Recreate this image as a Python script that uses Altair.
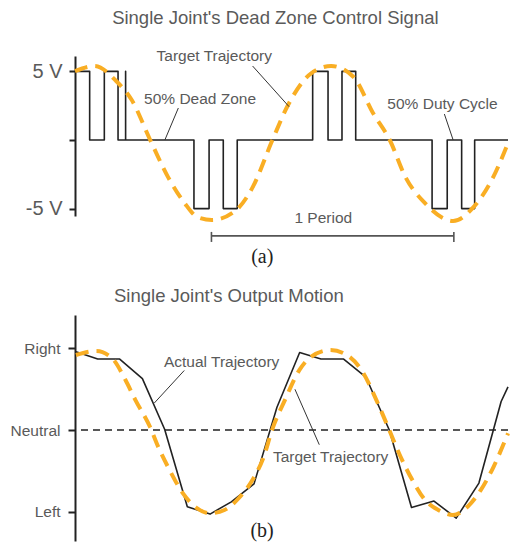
import altair as alt
import pandas as pd

# ---------------- Panel (a): dead-zone control signal ----------------
title_a = "Single Joint's Dead Zone Control Signal"
title_a_pos = (1.57, 8.92)

sq_t = [0, 0.62, 1.24, 1.82, 2.14, 2.14, 5.03, 5.67, 6.27, 6.86, 10.05, 10.70,
        11.29, 11.87, 15.10, 15.74, 16.35, 16.90, 18.31]
sq_v = [5, 0, 5, 0, 5, 0, -5, 0, -5, 0, 5, 0, 5, 0, -5, 0, -5, 0, 0]

tgt_a_t = [0, 0.83, 1.74, 2.40, 3.18, 3.93, 4.63, 5.17, 5.79, 6.82, 7.52, 8.35,
           9.01, 10.0, 10.83, 11.78, 12.60, 13.31, 13.97, 14.79, 15.99, 16.86,
           17.69, 18.31]
tgt_a_v = [5.02, 5.39, 4.30, 2.91, 0, -2.69, -4.59, -5.61, -5.83, -5.10, -3.42, 0,
           2.55, 4.88, 5.39, 4.59, 1.97, 0, -2.69, -4.59, -5.90, -4.88, -2.69, -0.22]

a_tick_values = [5, 0, -5]
a_tick_labels = ["5 V", "", "-5 V"]

ann_a_text = ["Target Trajectory", "50% Dead Zone", "50% Duty Cycle", "1 Period"]
ann_a_t = [5.89, 5.29, 15.54, 10.50]
ann_a_v = [6.12, 3.01, 2.64, -5.68]

lead_a_t1 = [7.51, 4.37, 15.62]
lead_a_v1 = [5.39, 2.33, 1.89]
lead_a_t2 = [9.05, 3.80, 15.99]
lead_a_v2 = [2.43, 0, 0]

period_t = [5.77, 16.02]
period_v = -6.99
period_tick_v = [-6.70, -7.43]

panel_a_label = "(a)"
panel_a_pos = (7.92, -8.56)

# ---------------- Panel (b): output motion ----------------
title_b = "Single Joint's Output Motion"
title_b_pos = (1.65, 1.64)

act_t = [0.04, 0.96, 1.89, 2.85, 3.79, 4.75, 5.71, 6.61, 7.57, 8.54, 9.50, 10.40,
         11.36, 12.30, 13.29, 14.23, 15.18, 16.12, 17.08, 18.02, 18.31]
act_v = [0.96, 0.87, 0.87, 0.63, 0.01, -0.94, -1.03, -0.88, -0.66, 0.28, 0.95, 0.87,
         0.87, 0.65, 0.0, -0.95, -0.87, -1.08, -0.65, 0.35, 0.53]

tgt_b_t = [0.04, 0.90, 1.57, 2.14, 2.55, 3.17, 3.51, 4.0, 4.55, 5.17, 5.71, 6.32,
           6.94, 7.51, 7.98, 8.33, 8.88, 9.50, 9.99, 10.81, 11.49, 12.19, 12.74,
           13.29, 13.71, 14.26, 14.81, 15.36, 15.98, 16.60, 17.15, 17.70, 18.31]
tgt_b_v = [0.92, 0.97, 0.88, 0.61, 0.37, 0.04, -0.2, -0.49, -0.77, -0.96, -1.02, -0.98,
           -0.83, -0.61, -0.33, 0, 0.37, 0.74, 0.9, 0.98, 0.92, 0.70, 0.37,
           0.0, -0.29, -0.61, -0.86, -0.98, -1.04, -0.94, -0.74, -0.45, -0.04]

b_tick_values = [1, 0, -1]
b_tick_labels = ["Right", "Neutral", "Left"]

ann_b_text = ["Actual Trajectory", "Target Trajectory"]
ann_b_t = [6.20, 10.81]
ann_b_v = [0.84, -0.33]

lead_b_t1 = [4.62, 10.33]
lead_b_v1 = [0.73, -0.18]
lead_b_t2 = [3.35, 9.30]
lead_b_v2 = [0.33, 0.50]

panel_b_label = "(b)"
panel_b_pos = (7.91, -1.24)

# ---------------- styling ----------------
SANS = "Liberation Sans"
SERIF = "Liberation Serif"
GRAY = "#5a5a5a"
INK = "#222222"
ORANGE = "#F9AE24"

W = 433
x_scale = alt.Scale(domain=[0, 18.31], nice=False, zero=False)


def label_expr(values, labels):
    parts = [f"datum.value == {v} ? '{l}'" for v, l in zip(values, labels)]
    return " : ".join(parts) + " : ''"


def panel(y_scale, y_axis, sig_df, sig_interp, tgt_df, ann_df, lead_df, extra,
          tag_df, title_df, height):
    X = alt.X("t:Q", scale=x_scale, axis=None)
    Y = alt.Y("v:Q", scale=y_scale, axis=y_axis)
    layers = []
    layers.extend(extra(X, Y))
    layers.append(
        alt.Chart(sig_df).mark_line(interpolate=sig_interp, color=INK, strokeWidth=1.6,
                                    strokeJoin="round")
        .encode(x=X, y=Y, order="i:Q")
    )
    layers.append(
        alt.Chart(tgt_df).mark_line(interpolate="monotone", color=ORANGE, strokeWidth=4,
                                    strokeDash=[13, 8], strokeJoin="round")
        .encode(x=X, y=Y, order="i:Q")
    )
    layers.append(
        alt.Chart(lead_df).mark_rule(color="#333333", strokeWidth=1)
        .encode(x=X, y=Y, x2="t2:Q", y2="v2:Q")
    )
    layers.append(
        alt.Chart(ann_df).mark_text(font=SANS, fontSize=15.5, color=GRAY, align="center",
                                    baseline="middle")
        .encode(x=X, y=Y, text="label:N")
    )
    layers.append(
        alt.Chart(tag_df).mark_text(font=SERIF, fontSize=20, color=INK, align="center",
                                    baseline="middle")
        .encode(x=X, y=Y, text="label:N")
    )
    layers.append(
        alt.Chart(title_df).mark_text(font=SANS, fontSize=18.5, color=GRAY, align="left",
                                      baseline="middle")
        .encode(x=X, y=Y, text="label:N")
    )
    return alt.layer(*layers).properties(width=W, height=height)


# ---- panel (a) ----
sq_df = pd.DataFrame({"t": sq_t, "v": sq_v, "i": range(len(sq_t))})
tgt_a_df = pd.DataFrame({"t": tgt_a_t, "v": tgt_a_v, "i": range(len(tgt_a_t))})
ann_a_df = pd.DataFrame({"t": ann_a_t, "v": ann_a_v, "label": ann_a_text})
lead_a_df = pd.DataFrame({"t": lead_a_t1, "v": lead_a_v1, "t2": lead_a_t2, "v2": lead_a_v2})
period_df = pd.DataFrame({
    "t": [period_t[0], period_t[0], period_t[1]],
    "v": [period_v, period_tick_v[0], period_tick_v[0]],
    "t2": [period_t[1], period_t[0], period_t[1]],
    "v2": [period_v, period_tick_v[1], period_tick_v[1]],
})
tag_a_df = pd.DataFrame({"t": [panel_a_pos[0]], "v": [panel_a_pos[1]], "label": [panel_a_label]})
title_a_df = pd.DataFrame({"t": [title_a_pos[0]], "v": [title_a_pos[1]], "label": [title_a]})

y_a_scale = alt.Scale(domain=[-5.54, 6.12], nice=False, zero=False)
y_a_axis = alt.Axis(values=a_tick_values, labelExpr=label_expr(a_tick_values, a_tick_labels),
                    title=None, grid=False, domainColor=INK, domainWidth=2, tickColor=INK,
                    tickWidth=2, tickSize=6, labelFont=SANS, labelFontSize=20,
                    labelColor=GRAY, labelPadding=7)


def extra_a(X, Y):
    return [alt.Chart(period_df).mark_rule(color="#555555", strokeWidth=1.6)
            .encode(x=X, y=Y, x2="t2:Q", y2="v2:Q")]


top = panel(y_a_scale, y_a_axis, sq_df, "step-after", tgt_a_df, ann_a_df, lead_a_df,
            extra_a, tag_a_df, title_a_df, 160)

# ---- panel (b) ----
act_df = pd.DataFrame({"t": act_t, "v": act_v, "i": range(len(act_t))})
tgt_b_df = pd.DataFrame({"t": tgt_b_t, "v": tgt_b_v, "i": range(len(tgt_b_t))})
ann_b_df = pd.DataFrame({"t": ann_b_t, "v": ann_b_v, "label": ann_b_text})
lead_b_df = pd.DataFrame({"t": lead_b_t1, "v": lead_b_v1, "t2": lead_b_t2, "v2": lead_b_v2})
tag_b_df = pd.DataFrame({"t": [panel_b_pos[0]], "v": [panel_b_pos[1]], "label": [panel_b_label]})
title_b_df = pd.DataFrame({"t": [title_b_pos[0]], "v": [title_b_pos[1]], "label": [title_b]})
neutral_df = pd.DataFrame({"v": [0]})

y_b_scale = alt.Scale(domain=[-1.36, 1.41], nice=False, zero=False)
y_b_axis = alt.Axis(values=b_tick_values, labelExpr=label_expr(b_tick_values, b_tick_labels),
                    title=None, grid=False, domainColor=INK, domainWidth=2, tickColor=INK,
                    tickWidth=2, tickSize=7, labelFont=SANS, labelFontSize=15.5,
                    labelColor=GRAY, labelPadding=8)


def extra_b(X, Y):
    return [alt.Chart(neutral_df).mark_rule(color=INK, strokeWidth=1.5, strokeDash=[7, 5])
            .encode(y=Y)]


bottom = panel(y_b_scale, y_b_axis, act_df, "linear", tgt_b_df, ann_b_df, lead_b_df,
               extra_b, tag_b_df, title_b_df, 226)

chart = alt.vconcat(top, bottom, spacing=99, bounds="flush").properties(
    padding={"left": 2, "top": 0, "right": 0, "bottom": 0}
).configure_view(stroke=None)

chart.save("out.html", embed_options={"renderer": "svg", "actions": False})
